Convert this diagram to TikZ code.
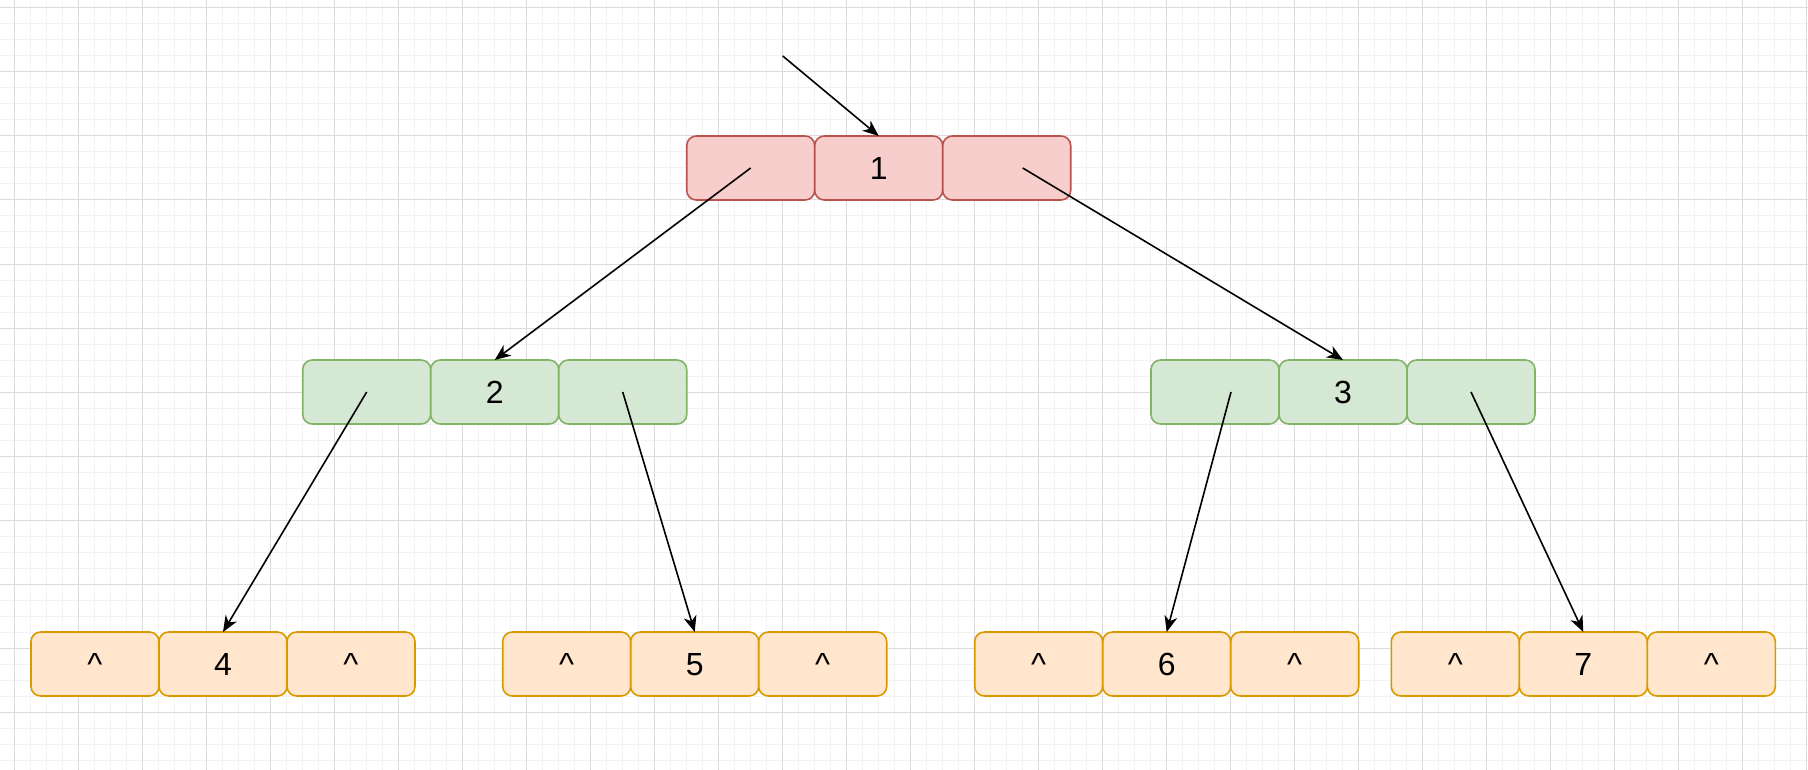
\documentclass[tikz,border=0pt]{standalone}
\usepackage{fontspec}
\setmainfont{Liberation Sans}
\usepackage{xcolor}
\usepackage{tikz}
\usetikzlibrary{matrix,arrows.meta,positioning}
\definecolor{rootfill}{HTML}{F8CECC}
\definecolor{rootdraw}{HTML}{B85450}
\definecolor{midfill}{HTML}{D5E8D4}
\definecolor{middraw}{HTML}{82B366}
\definecolor{leaffill}{HTML}{FFE6CC}
\definecolor{leafdraw}{HTML}{D79B00}
\tikzset{
	cell/.style={draw, line width=0.8pt, rounded corners=4.8pt, minimum width=64pt, minimum height=32pt, inner sep=0pt, outer sep=0pt, text height=11.5pt, text depth=0pt, font=\fontsize{16}{19}\selectfont},
	rootcell/.style={cell, fill=rootfill, draw=rootdraw},
	midcell/.style={cell, fill=midfill, draw=middraw},
	leafcell/.style={cell, fill=leaffill, draw=leafdraw},
	cellrow/.style={matrix of nodes, nodes in empty cells, column sep=-0.8pt, row sep=0pt, inner sep=0pt, ampersand replacement=\&},
	link/.style={-{Stealth[length=8pt, width=6.5pt, inset=2.4pt]}, line width=0.8pt},
	minorgrid/.style={draw=gray!10, line width=0.5pt},
	majorgrid/.style={draw=gray!28, line width=0.5pt}
}
\newcommand{\linkcells}[3][0pt]{
	\draw[link] ([xshift=#1]#2.center) -- (#3.north);
}
\newcommand{\nil}{\textasciicircum}
\begin{document}
\begin{tikzpicture}[x=0.5pt, y=-0.5pt]
	\fill[white] (0,0) rectangle (1808,770);
	\useasboundingbox (0,0) rectangle (1808,770);
	% background grid
	\foreach \k in {0,...,112} \draw[minorgrid] (14.7+16*\k,0) -- (14.7+16*\k,770);
	\foreach \k in {0,...,47} \draw[minorgrid] (0,8+16*\k) -- (1808,8+16*\k);
	\foreach \k in {0,...,28} \draw[majorgrid] (14.7+64*\k,0) -- (14.7+64*\k,770);
	\foreach \k in {0,...,11} \draw[majorgrid] (0,8+64*\k) -- (1808,8+64*\k);

	\matrix (node1)[cellrow, nodes=rootcell] at (878.7,168) {
		\& 1 \& \\ %node1-1-1 .. node1-1-3
	};

	\matrix (node2)[cellrow, nodes=midcell] at (494.7,392) {
		\& 2 \& \\
	};
	\matrix (node3)[cellrow, nodes=midcell] at (1343,392) {
		\& 3 \& \\
	};

	\matrix (node4)[cellrow, nodes=leafcell] at (223,664) {
		\nil \& 4 \& \nil \\
	};
	\matrix (node5)[cellrow, nodes=leafcell] at (694.7,664) {
		\nil \& 5 \& \nil \\
	};
	\matrix (node6)[cellrow, nodes=leafcell] at (1166.7,664) {
		\nil \& 6 \& \nil \\
	};
	\matrix (node7)[cellrow, nodes=leafcell] at (1583.3,664) {
		\nil \& 7 \& \nil \\
	};

	\coordinate (entry) at (782.7,56);
	\draw[link] (entry) -- (node1-1-2.north);

	\linkcells{node1-1-1}{node2-1-2}
	\linkcells[8pt]{node1-1-3}{node3-1-2}
	\linkcells{node2-1-1}{node4-1-2}
	\linkcells{node2-1-3}{node5-1-2}
	\linkcells[8pt]{node3-1-1}{node6-1-2}
	\linkcells{node3-1-3}{node7-1-2}
\end{tikzpicture}
\end{document}
